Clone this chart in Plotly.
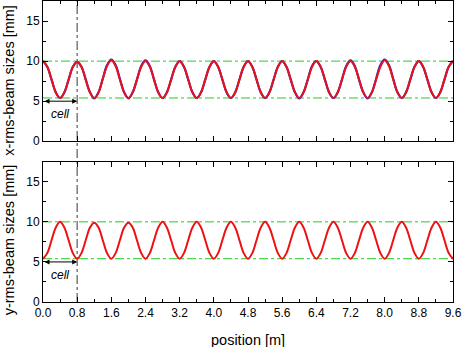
import plotly.graph_objects as go
from plotly.subplots import make_subplots

# positions [m], one sample every 0.1 m
position = [round(0.1 * i, 1) for i in range(97)]

# x-rms beam size [mm], red curve
x_rms_red = [10.0, 9.3, 7.7, 6.1, 5.4, 6.1, 7.7, 9.3,
             9.9, 9.3, 7.7, 6.1, 5.4, 6.1, 7.8, 9.4,
             10.1, 9.4, 7.7, 6.1, 5.4, 6.1, 7.7, 9.3,
             10.0, 9.3, 7.7, 6.1, 5.4, 6.1, 7.7, 9.3,
             10.0, 9.3, 7.7, 6.1, 5.4, 6.1, 7.7, 9.3,
             10.0, 9.3, 7.7, 6.1, 5.4, 6.1, 7.7, 9.3,
             10.0, 9.3, 7.7, 6.1, 5.4, 6.1, 7.7, 9.3,
             10.0, 9.3, 7.7, 6.1, 5.4, 6.1, 7.7, 9.3,
             10.0, 9.3, 7.7, 6.1, 5.4, 6.1, 7.7, 9.3,
             10.0, 9.3, 7.7, 6.1, 5.4, 6.1, 7.7, 9.3,
             10.1, 9.4, 7.7, 6.1, 5.4, 6.1, 7.7, 9.3,
             10.0, 9.3, 7.7, 6.1, 5.4, 6.1, 7.7, 9.3,
             10.0]

# x-rms beam size [mm], blue curve (mostly hidden under the red one)
x_rms_blue = [10.0, 9.3, 7.7, 6.1, 5.4, 6.1, 7.7, 9.3,
              9.9, 9.3, 7.7, 6.1, 5.35, 6.1, 7.8, 9.5,
              10.2, 9.5, 7.8, 6.1, 5.35, 6.1, 7.7, 9.4,
              10.1, 9.4, 7.7, 6.1, 5.4, 6.1, 7.7, 9.3,
              10.0, 9.3, 7.7, 6.1, 5.4, 6.1, 7.7, 9.3,
              10.0, 9.3, 7.7, 6.1, 5.4, 6.1, 7.7, 9.3,
              10.0, 9.3, 7.7, 6.1, 5.4, 6.1, 7.7, 9.3,
              10.0, 9.3, 7.7, 6.1, 5.35, 6.1, 7.7, 9.4,
              10.0, 9.3, 7.7, 6.1, 5.4, 6.1, 7.7, 9.4,
              10.1, 9.4, 7.7, 6.1, 5.35, 6.1, 7.8, 9.5,
              10.2, 9.5, 7.8, 6.1, 5.4, 6.1, 7.7, 9.3,
              10.0, 9.3, 7.7, 6.1, 5.4, 6.1, 7.7, 9.3,
              10.0]

# y-rms beam size [mm]
y_rms = [5.4, 6.1, 7.7, 9.3, 10.0, 9.3, 7.7, 6.1,
         5.4, 6.1, 7.7, 9.3, 9.9, 9.3, 7.7, 6.1,
         5.4, 6.1, 7.7, 9.3, 9.9, 9.3, 7.7, 6.1,
         5.4, 6.1, 7.7, 9.3, 10.0, 9.3, 7.7, 6.1,
         5.4, 6.1, 7.7, 9.3, 10.0, 9.3, 7.7, 6.1,
         5.4, 6.1, 7.7, 9.3, 10.0, 9.3, 7.7, 6.1,
         5.4, 6.1, 7.7, 9.3, 10.0, 9.3, 7.7, 6.1,
         5.4, 6.1, 7.7, 9.3, 10.0, 9.3, 7.7, 6.1,
         5.4, 6.1, 7.7, 9.3, 10.0, 9.3, 7.7, 6.1,
         5.4, 6.1, 7.7, 9.3, 10.0, 9.3, 7.7, 6.1,
         5.4, 6.1, 7.7, 9.3, 10.0, 9.3, 7.7, 6.1,
         5.4, 6.1, 7.7, 9.3, 10.0, 9.3, 7.7, 6.1,
         5.4]

envelope_max = 10.0
envelope_min = 5.4
cell_length = 0.8
x_ticks = [0.0, 0.8, 1.6, 2.4, 3.2, 4.0, 4.8, 5.6, 6.4, 7.2, 8.0, 8.8, 9.6]

fig = make_subplots(rows=2, cols=1, vertical_spacing=0.068)

green = "#22cc22"
for row in [1, 2]:
    for lvl in [envelope_max, envelope_min]:
        fig.add_trace(go.Scatter(x=[0, 9.6], y=[lvl, lvl], mode="lines",
                                 line=dict(color=green, width=1, dash="dashdot"),
                                 showlegend=False, hoverinfo="skip"), row=row, col=1)

fig.add_trace(go.Scatter(x=position, y=x_rms_blue, mode="lines", line_shape="spline",
                         line=dict(color="#2020dd", width=2.2), showlegend=False), row=1, col=1)
fig.add_trace(go.Scatter(x=position, y=x_rms_red, mode="lines", line_shape="spline",
                         line=dict(color="#ee1111", width=2), showlegend=False), row=1, col=1)
fig.add_trace(go.Scatter(x=position, y=y_rms, mode="lines", line_shape="spline",
                         line=dict(color="#ee1111", width=2), showlegend=False), row=2, col=1)

# cell boundary line through both panels
fig.add_shape(type="line", xref="x", yref="paper", x0=cell_length, x1=cell_length,
              y0=0, y1=1, line=dict(color="#666666", width=1.3, dash="dashdot"), layer="below")

for xr, yr in [("x", "y"), ("x2", "y2")]:
    fig.add_annotation(x=cell_length, y=5.0, ax=0, ay=5.0, xref=xr, yref=yr, axref=xr, ayref=yr,
                       text="", showarrow=True, arrowhead=2, arrowside="end+start",
                       arrowsize=1, arrowwidth=1, arrowcolor="black")
    fig.add_annotation(x=cell_length / 2, y=3.4, xref=xr, yref=yr, text="<i>cell</i>",
                       showarrow=False, font=dict(size=12, color="black"))

# axis titles placed by hand
title_font = dict(family="Liberation Sans, Arial", size=14.5, color="black")
fig.add_annotation(x=0, y=0.735, xref="paper", yref="paper", xanchor="center", yanchor="middle",
                   xshift=-34, textangle=-90, text="x-rms-beam sizes [mm]",
                   showarrow=False, font=title_font)
fig.add_annotation(x=0, y=0.205, xref="paper", yref="paper", xanchor="center", yanchor="middle",
                   xshift=-34, textangle=-90, text="y-rms-beam sizes [mm]",
                   showarrow=False, font=title_font)
fig.add_annotation(x=0.5, y=-0.126, xref="paper", yref="paper", xanchor="center", yanchor="middle",
                   text="position [m]", showarrow=False, font=title_font)

axis_style = dict(showline=True, linecolor="black", linewidth=1, mirror="ticks",
                  ticks="inside", tickcolor="black", ticklen=5, showgrid=False, zeroline=False)

for row in [1, 2]:
    fig.update_xaxes(range=[0, 9.6], tickvals=x_ticks, ticktext=[f"{v:.1f}" for v in x_ticks],
                     minor=dict(ticks="inside", dtick=0.4, ticklen=3, tickcolor="black"),
                     showticklabels=(row == 2), row=row, col=1, **axis_style)
    fig.update_yaxes(range=[0, 17.5], tickvals=[0, 5, 10, 15],
                     minor=dict(ticks="inside", dtick=2.5, ticklen=3, tickcolor="black"),
                     row=row, col=1, **axis_style)

fig.update_layout(width=463, height=347, margin=dict(l=43, r=10, t=1, b=45),
                  plot_bgcolor="white", paper_bgcolor="white",
                  font=dict(family="Liberation Sans, Arial", size=12, color="black"))

fig.write_html("out.html", config={"displayModeBar": False},
               post_script="document.body.style.margin='0';")
